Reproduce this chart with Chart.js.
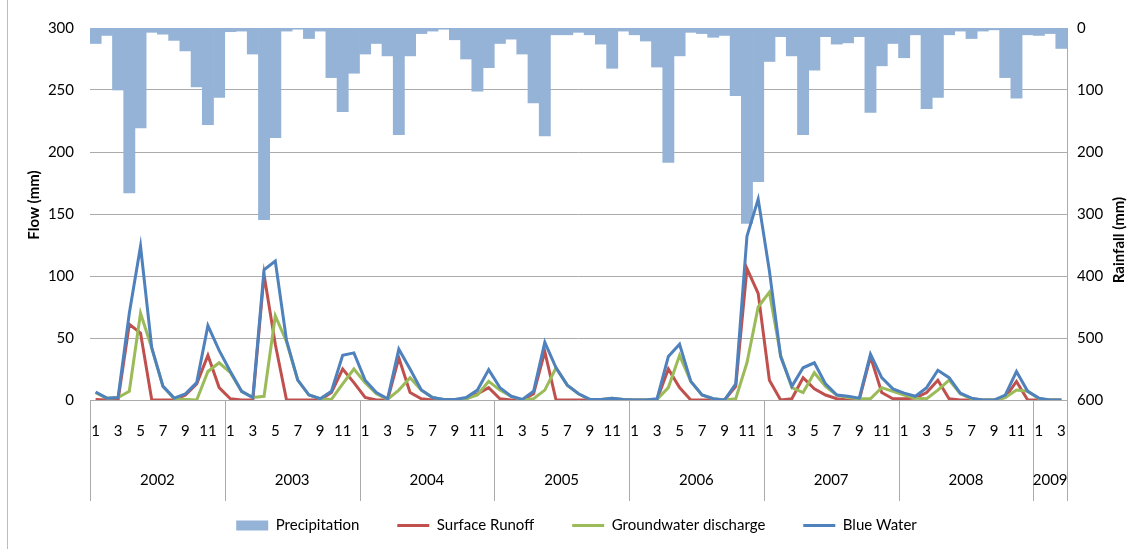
<!DOCTYPE html>
<html>
<head>
<meta charset="utf-8">
<script src="https://cdn.jsdelivr.net/npm/chart.js@4.4.1/dist/chart.umd.min.js"></script>
<style>
  html, body { margin: 0; padding: 0; background: #fff; }
  #wrap { position: relative; height: 549px; border-left: 1px solid #bdbdbd; box-sizing: border-box; margin-left: 7px; width: 1138px; }
</style>
</head>
<body>
<div id="wrap"><canvas id="flowChart"></canvas></div>
<script>
// Monthly series, Jan 2002 - Mar 2009
const years = ['2002', '2003', '2004', '2005', '2006', '2007', '2008', '2009'];
const monthsPerYear = [12, 12, 12, 12, 12, 12, 12, 3];

// rainfall, mm (right axis, reversed)
const precipitation = [
  25, 12, 100, 266, 161, 7, 10, 20, 37, 95, 156, 112,
  6, 5, 42, 309, 177, 5, 2, 17, 5, 80, 135, 73,
  42, 25, 45, 172, 45, 9, 5, 2, 19, 50, 102, 64,
  25, 18, 42, 121, 174, 11, 11, 7, 11, 26, 65, 5,
  11, 21, 63, 217, 45, 7, 9, 15, 12, 109, 315, 248,
  54, 14, 45, 172, 68, 14, 26, 24, 14, 136, 61, 25,
  48, 11, 130, 112, 11, 5, 17, 5, 3, 80, 113, 11,
  12, 9, 33,
];

// flows, mm (left axis)
const surfaceRunoff = [
  0.5, 0, 0, 61, 54, 0, 0, 0, 4, 13, 36, 10,
  1, 0, 0, 101, 45, 0, 0, 0, 0, 6, 25, 14,
  2, 0, 0, 34, 6, 1, 0, 0, 0, 1, 5, 10,
  1, 0, 0, 5, 39, 0, 0, 0, 0, 0, 0, 0,
  0, 0, 0.5, 25, 10, 0, 0, 0, 0, 11, 106, 86,
  16, 0, 1, 18, 9, 4, 1, 0, 0, 35, 6, 1,
  1, 1.5, 6, 16, 1, 0, 0, 0, 0, 2, 15, 0,
  0, 0, 0,
];

const groundwater = [
  6, 1.5, 2, 7, 70, 42, 11, 1, 0.5, 0, 23, 30,
  22, 7, 2, 3, 68, 47, 16, 4, 1, 0.5, 13, 25,
  14, 5, 0.5, 8, 18, 8, 2, 0.5, 0.5, 1, 4, 15,
  8, 3, 0, 1, 8, 26, 12, 5, 0.5, 0.5, 1.5, 0.5,
  0, 0, 0.5, 10, 36, 15, 4, 1, 0, 1, 30, 75,
  87, 36, 10, 6, 22, 11, 4, 2, 1, 1, 10, 7,
  4, 1.5, 1, 8, 16, 5, 1, 0, 0, 2, 8, 7,
  1, 0, 0,
];

const blueWater = [
  6.5, 1.5, 2, 70, 124, 42, 11, 1.5, 5, 14, 60, 40,
  23, 7, 2, 105, 112, 48, 16, 4, 1, 7, 36, 38,
  16, 6, 1, 41, 25, 8, 2, 0.5, 0.5, 2, 8, 24.5,
  10, 3, 0.5, 7, 46.5, 26, 12, 5, 0.5, 0.5, 1.5, 0.5,
  0, 0, 1, 35, 45, 15, 4, 1, 0, 13, 132, 162,
  104, 35, 11, 26, 30, 13, 4, 3, 1.5, 37, 18, 9,
  5.5, 3, 10, 24, 18, 5.5, 1.5, 0, 0, 4, 23, 7,
  1.5, 0, 0,
];

// month number for every point ("1".."12")
const labels = [];
monthsPerYear.forEach(n => { for (let m = 1; m <= n; m++) labels.push(String(m)); });

const FONT = 'Lato, "Open Sans", sans-serif';
const GRID = '#ababab';

// year row + separators under the month labels, and the two axis titles
const yearAxis = {
  id: 'yearAxis',
  afterDraw(chart) {
    const { ctx, chartArea } = chart;
    const x = chart.scales.x;
    const step = x.width / labels.length;
    const lineBottom = 501;
    ctx.save();
    ctx.strokeStyle = GRID;
    ctx.lineWidth = 1;
    ctx.fillStyle = '#000';
    ctx.font = '15px ' + FONT;
    ctx.textAlign = 'center';
    ctx.textBaseline = 'middle';
    let start = 0;
    years.forEach((yr, k) => {
      const x0 = x.getPixelForValue(start) - step / 2;
      const x1 = x0 + monthsPerYear[k] * step;
      ctx.beginPath();
      ctx.moveTo(Math.round(x0) + 0.5, chartArea.bottom);
      ctx.lineTo(Math.round(x0) + 0.5, lineBottom);
      ctx.stroke();
      ctx.fillText(yr, (x0 + x1) / 2, 480);
      start += monthsPerYear[k];
    });
    const xEnd = x.getPixelForValue(labels.length - 1) + step / 2;
    ctx.beginPath();
    ctx.moveTo(Math.round(xEnd) + 0.5, chartArea.bottom);
    ctx.lineTo(Math.round(xEnd) + 0.5, lineBottom);
    ctx.stroke();

    // axis titles, both reading bottom to top
    ctx.font = 'bold 15px ' + FONT;
    ctx.translate(26, 205);
    ctx.rotate(-Math.PI / 2);
    ctx.fillText('Flow (mm)', 0, 0);
    ctx.restore();
    ctx.save();
    ctx.fillStyle = '#000';
    ctx.font = 'bold 15px ' + FONT;
    ctx.textAlign = 'center';
    ctx.textBaseline = 'middle';
    ctx.translate(1111, 240);
    ctx.rotate(-Math.PI / 2);
    ctx.fillText('Rainfall (mm)', 0, 0);
    ctx.restore();
  },
};

const ctx = document.getElementById('flowChart').getContext('2d');

new Chart(ctx, {
  data: {
    labels,
    datasets: [
      {
        type: 'bar',
        label: 'Precipitation',
        data: precipitation,
        yAxisID: 'y2',
        backgroundColor: '#95b3d7',
        barPercentage: 1,
        categoryPercentage: 1,
        order: 4,
      },
      {
        type: 'line',
        label: 'Surface Runoff',
        data: surfaceRunoff,
        borderColor: '#c0504d',
        backgroundColor: '#c0504d',
        borderWidth: 3,
        pointRadius: 0,
        tension: 0,
        order: 3,
      },
      {
        type: 'line',
        label: 'Groundwater discharge',
        data: groundwater,
        borderColor: '#9bbb59',
        backgroundColor: '#9bbb59',
        borderWidth: 3,
        pointRadius: 0,
        tension: 0,
        order: 2,
      },
      {
        type: 'line',
        label: 'Blue Water',
        data: blueWater,
        borderColor: '#4f81bd',
        backgroundColor: '#4f81bd',
        borderWidth: 3,
        pointRadius: 0,
        tension: 0,
        order: 1,
      },
    ],
  },
  options: {
    responsive: true,
    maintainAspectRatio: false,
    animation: false,
    layout: { padding: { top: 28, right: 0, left: 0, bottom: 6 } },
    plugins: {
      tooltip: { enabled: false },
      legend: {
        position: 'bottom',
        labels: {
          color: '#000',
          font: { family: FONT, size: 15 },
          boxWidth: 32,
          boxHeight: 10,
          padding: 38,
          usePointStyle: true,
          pointStyleWidth: 32,
          sort: (a, b) => a.datasetIndex - b.datasetIndex,
          generateLabels(chart) {
            const items = Chart.defaults.plugins.legend.labels.generateLabels(chart);
            items.forEach(it => {
              if (it.datasetIndex === 0) {
                it.pointStyle = 'rect';
                it.lineWidth = 0;
              } else {
                it.pointStyle = 'line';
                it.lineWidth = 3;
              }
            });
            return items;
          },
        },
      },
    },
    scales: {
      x: {
        grid: { display: false },
        border: { display: false },
        ticks: {
          autoSkip: false,
          maxRotation: 0,
          color: '#000',
          padding: 14,
          font: { family: FONT, size: 15 },
          callback: (v, i) => (i % 12) % 2 === 0 ? labels[i] : '',
        },
        afterFit: s => { s.height = 80; },
      },
      y: {
        position: 'left',
        min: 0,
        max: 300,
        grid: { color: GRID, drawTicks: false },
        border: { display: false },
        ticks: {
          stepSize: 50,
          padding: 16,
          color: '#000',
          font: { family: FONT, size: 15 },
        },
        afterFit: s => { s.width = 82; },
      },
      y2: {
        position: 'right',
        reverse: true,
        min: 0,
        max: 600,
        grid: { display: false, drawTicks: false },
        border: { display: true, color: GRID },
        ticks: {
          stepSize: 100,
          padding: 10,
          color: '#000',
          font: { family: FONT, size: 15 },
        },
        afterFit: s => { s.width = 78; },
      },
    },
  },
  plugins: [yearAxis],
});
</script>
</body>
</html>
